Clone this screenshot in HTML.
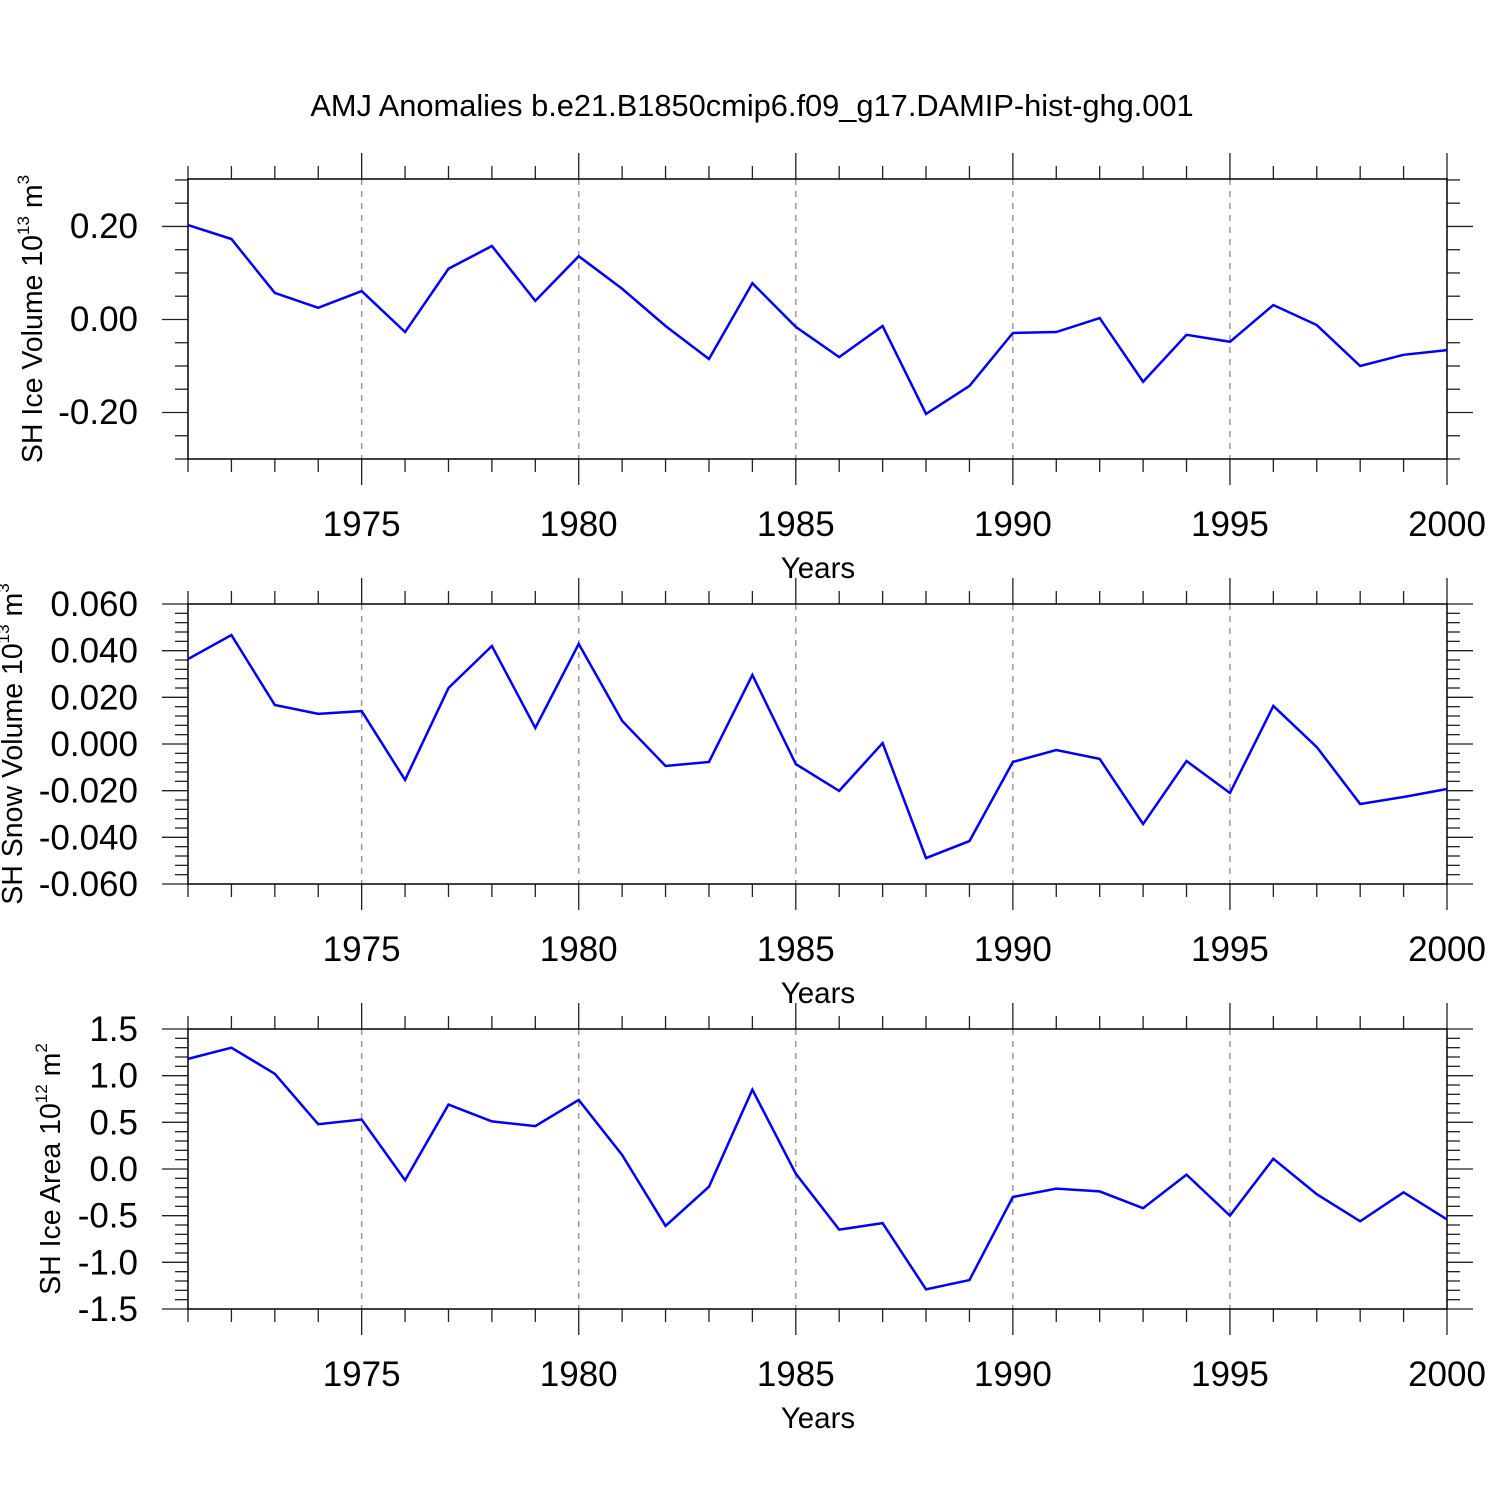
<!DOCTYPE html>
<html><head><meta charset="utf-8"><style>
html,body{margin:0;padding:0;background:#fff;}
svg{display:block;font-family:"Liberation Sans",Arial,sans-serif;}
</style></head><body>
<svg id="chart" width="1500" height="1500" viewBox="0 0 1500 1500" xmlns="http://www.w3.org/2000/svg">
<rect width="1500" height="1500" fill="#fff"/>
<text x="752" y="116" font-size="30.8" text-anchor="middle">AMJ Anomalies b.e21.B1850cmip6.f09_g17.DAMIP-hist-ghg.001</text>
</svg>
<script>
const years = [1971,1972,1973,1974,1975,1976,1977,1978,1979,1980,1981,1982,1983,1984,1985,1986,1987,1988,1989,1990,1991,1992,1993,1994,1995,1996,1997,1998,1999,2000];
const iceVolume = [0.202,0.172,0.056,0.024,0.060,-0.028,0.108,0.157,0.039,0.135,0.065,-0.015,-0.086,0.077,-0.017,-0.082,-0.015,-0.204,-0.144,-0.030,-0.028,0.002,-0.135,-0.034,-0.049,0.030,-0.013,-0.101,-0.077,-0.067];
const snowVolume = [0.0364,0.0467,0.0167,0.0129,0.0141,-0.0154,0.024,0.042,0.0069,0.0429,0.0099,-0.0094,-0.0077,0.0296,-0.0086,-0.0201,0.0004,-0.0489,-0.0416,-0.0077,-0.0026,-0.0064,-0.0343,-0.0073,-0.021,0.0163,-0.0013,-0.0257,-0.0227,-0.0193];
const iceArea = [1.18,1.30,1.02,0.48,0.53,-0.12,0.69,0.51,0.46,0.74,0.15,-0.61,-0.19,0.85,-0.05,-0.65,-0.58,-1.29,-1.19,-0.30,-0.21,-0.24,-0.42,-0.06,-0.50,0.11,-0.27,-0.56,-0.25,-0.54];
const xTickYears = [1975,1980,1985,1990,1995,2000];
const ticks1 = ["-0.20","0.00","0.20"];
const ticks2 = ["-0.060","-0.040","-0.020","0.000","0.020","0.040","0.060"];
const ticks3 = ["-1.5","-1.0","-0.5","0.0","0.5","1.0","1.5"];

const NS="http://www.w3.org/2000/svg";
const svg=document.getElementById('chart');
const X0=188,X1=1447;
function xs(y){return X0+(y-1971)/(2000-1971)*(X1-X0);}
function mk(tag,attrs,parent){const e=document.createElementNS(NS,tag);for(const k in attrs)e.setAttribute(k,attrs[k]);(parent||svg).appendChild(e);return e;}

function panel(id,top,ymin,ymax,minorStep,ticks,values,title,exp,unitExp,titleX){
  const bot=top+280;
  const g=mk('g',{});
  
  
  const ys=v=>bot-(v-ymin)/(ymax-ymin)*(bot-top);
  xTickYears.forEach(yr=>{if(yr<2000){const l=mk('line',{x1:xs(yr),x2:xs(yr),y1:top,y2:bot,stroke:'#999','stroke-width':1.5,'stroke-dasharray':'6,6'},g);
    
    }});
  years.forEach(yr=>{const major=yr%5===0;const L=major?26:13;
    mk('line',{x1:xs(yr),x2:xs(yr),y1:top,y2:top-L,stroke:'#222','stroke-width':1.3},g);
    mk('line',{x1:xs(yr),x2:xs(yr),y1:bot,y2:bot+L,stroke:'#222','stroke-width':1.3},g);});
  const n=Math.round((ymax-ymin)/minorStep);
  const majors=ticks.map(Number);
  for(let i=0;i<=n;i++){const v=ymin+i*minorStep;const major=majors.some(m=>Math.abs(m-v)<minorStep/10);const L=major?26:13;const yy=ys(v);
    mk('line',{x1:X0,x2:X0-L,y1:yy,y2:yy,stroke:'#222','stroke-width':1.3},g);
    mk('line',{x1:X1,x2:X1+L,y1:yy,y2:yy,stroke:'#222','stroke-width':1.3},g);}
  ticks.forEach(t=>{const tx=mk('text',{x:138,y:ys(Number(t))+12,'font-size':35,'text-anchor':'end'},g);tx.textContent=t;
    
    });
  const fr=mk('rect',{x:X0,y:top,width:X1-X0,height:bot-top,fill:'none',stroke:'#000','stroke-width':1.5},g);
  
  
  const pts=values.map((v,i)=>xs(years[i])+','+ys(v)).join(' ');
  const pl=mk('polyline',{points:pts,fill:'none',stroke:'#0000ff','stroke-width':2.5,'stroke-linejoin':'miter'},g);
  
  
  xTickYears.forEach(yr=>{const tx=mk('text',{x:xs(yr),y:bot+77,'font-size':35,'text-anchor':'middle'},g);tx.textContent=yr;
    
    });
  const xt=mk('text',{x:818,y:bot+119,'font-size':29.5,'text-anchor':'middle'},g);xt.textContent='Years';
  
  
  const cy=(top+bot)/2;
  const yt=mk('text',{x:0,y:0,'font-size':28.5,'text-anchor':'middle',transform:`translate(${titleX},${cy}) rotate(-90)`},g);
  
  
  yt.appendChild(document.createTextNode(title+' 10'));
  const s1=mk('tspan',{'font-size':17,dy:-13},yt);s1.textContent=exp;
  const s2=mk('tspan',{dy:13,'font-size':28.5},yt);s2.textContent=' m';
  const s3=mk('tspan',{'font-size':17,dy:-13},yt);s3.textContent=unitExp;
}
panel('ice-volume',179,-0.301,0.301,0.05,ticks1,iceVolume,'SH Ice Volume','13','3',42);
panel('snow-volume',604,-0.06,0.06,0.004,ticks2,snowVolume,'SH Snow Volume','13','3',22);
panel('ice-area',1029,-1.5,1.5,0.1,ticks3,iceArea,'SH Ice Area','12','2',60);
</script>
</body></html>
